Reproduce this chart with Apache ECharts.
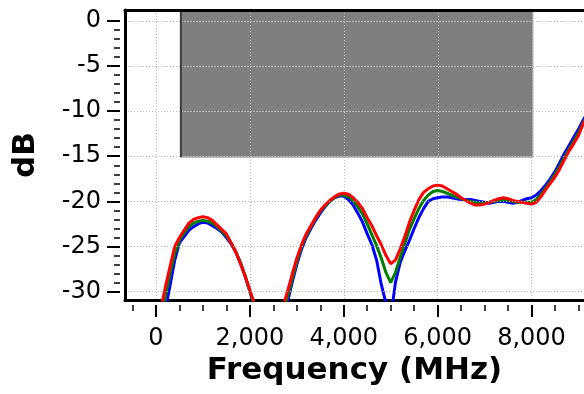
<!DOCTYPE html>
<html>
<head>
<meta charset="utf-8">
<script src="https://cdn.jsdelivr.net/npm/echarts@6/dist/echarts.min.js"></script>
<style>
  html, body { margin: 0; padding: 0; background: #fff; }
  #chart { width: 584px; height: 394px; }
</style>
</head>
<body>
<div id="chart"></div>
<script>
// ---- data ----
const freqMHz = [0,100,200,300,400,500,600,700,800,900,
  1000,1100,1200,1300,1400,1500,1600,1700,1800,1900,
  2000,2100,2200,2300,2400,2500,2600,2700,2800,2900,
  3000,3100,3200,3300,3400,3500,3600,3700,3800,3900,
  4000,4100,4200,4300,4400,4500,4600,4700,4800,4900,
  5000,5100,5200,5300,5400,5500,5600,5700,5800,5900,
  6000,6100,6200,6300,6400,6500,6600,6700,6800,6900,
  7000,7100,7200,7300,7400,7500,7600,7700,7800,7900,
  8000,8100,8200,8300,8400,8500,8600,8700,8800,8900,
  9000,9100,9200];

const blueDb = [-40,-36,-32.0,-29.3,-26.5,-24.6,-23.9,-23.2,-22.8,-22.5,
  -22.3,-22.4,-22.7,-23.0,-23.4,-24.0,-24.7,-25.6,-26.8,-28.3,
  -30.0,-31.8,-33.5,-35,-36,-36,-35,-33,-31.2,-29.0,
  -27.0,-25.3,-24.0,-23.0,-22.1,-21.3,-20.6,-20.0,-19.6,-19.4,
  -19.4,-19.8,-20.4,-21.3,-22.3,-23.6,-24.8,-26.5,-29.2,-31.3,
  -33.0,-29.0,-26.8,-25.5,-24.3,-23.0,-21.8,-20.8,-20.0,-19.7,
  -19.6,-19.5,-19.5,-19.6,-19.7,-19.8,-19.8,-19.8,-19.9,-20.0,
  -20.1,-20.2,-20.1,-20.0,-20.0,-20.1,-20.2,-20.1,-19.9,-19.7,
  -19.6,-19.3,-18.8,-18.2,-17.5,-16.7,-15.7,-14.7,-13.8,-12.9,
  -12.0,-11.0,-10.1];

const greenDb = [-37,-33.5,-30.5,-28.0,-25.8,-24.3,-23.5,-22.8,-22.4,-22.2,
  -22.1,-22.2,-22.4,-22.8,-23.3,-23.8,-24.6,-25.6,-26.8,-28.3,
  -29.9,-31.6,-33.3,-34.7,-35.7,-35.5,-34.2,-32.4,-30.6,-28.6,
  -26.7,-25.0,-23.8,-22.8,-21.9,-21.1,-20.5,-20.0,-19.6,-19.3,
  -19.3,-19.5,-19.9,-20.6,-21.4,-22.5,-23.7,-24.9,-26.3,-27.9,
  -29.0,-27.9,-26.2,-24.7,-23.1,-21.9,-20.8,-19.9,-19.3,-18.9,
  -18.8,-18.9,-19.1,-19.3,-19.5,-19.7,-19.9,-20.0,-20.1,-20.2,
  -20.2,-20.1,-20.0,-19.9,-19.8,-19.9,-20.0,-20.1,-20.1,-20.1,
  -20.1,-19.8,-19.2,-18.5,-17.8,-17.0,-16.1,-15.1,-14.2,-13.3,
  -12.4,-11.3,-10.3];

const redDb = [-34.5,-32.0,-29.5,-27.2,-25.0,-24.0,-23.2,-22.4,-22.0,-21.8,
  -21.7,-21.8,-22.1,-22.6,-23.1,-23.6,-24.6,-25.6,-26.9,-28.3,
  -29.8,-31.4,-33.0,-34.5,-35.5,-35.0,-33.5,-31.8,-30.0,-28.1,
  -26.3,-24.8,-23.6,-22.7,-21.8,-21.0,-20.4,-19.9,-19.5,-19.2,
  -19.1,-19.2,-19.6,-20.1,-20.8,-21.8,-22.7,-23.8,-24.8,-26.0,
  -26.9,-26.5,-25.3,-23.9,-22.3,-21.0,-19.8,-19.0,-18.6,-18.3,
  -18.2,-18.3,-18.6,-18.9,-19.2,-19.6,-19.9,-20.2,-20.4,-20.4,
  -20.3,-20.1,-19.9,-19.7,-19.6,-19.7,-19.9,-20.0,-20.1,-20.2,
  -20.3,-20.1,-19.5,-18.7,-18.0,-17.3,-16.4,-15.4,-14.4,-13.6,
  -12.7,-11.4,-10.5];

// shaded band (frequency range and lower dB limit)
const bandStartMHz = 530;
const bandEndMHz = 8030;
const bandLowDb = -15.1;

// ticks
const xMajorTicks = [0, 2000, 4000, 6000, 8000];
const xMinorTicks = [-500, 500, 1000, 1500, 2500, 3000, 3500, 4500, 5000, 5500, 6500, 7000, 7500, 8500, 9000];
const yMajorTicks = [-30, -25, -20, -15, -10, -5, 0];
const yMinorTicks = [-29,-28,-27,-26,-24,-23,-22,-21,-19,-18,-17,-16,-14,-13,-12,-11,-9,-8,-7,-6,-4,-3,-2,-1];

// axis ranges
const X_MIN = -660, X_MAX = 9118;
const Y_MIN = -30.92, Y_MAX = 1.196;

// ---- chart ----
const FONT = 'DejaVu Sans';
const gridBox = { left: 125, right: 0, top: 10, bottom: 94 };
const GRID_COLOR = '#b8b8b8';
const gridLine = { color: GRID_COLOR, width: 1, type: [1, 2] };

function pairs(ys) { return freqMHz.map((f, i) => [f, ys[i]]); }

function tickXAxis(grid, values, len, width) {
  return {
    type: 'value', gridIndex: grid, min: X_MIN, max: X_MAX, position: 'bottom', offset: 5,
    axisLine: { show: false, onZero: false },
    axisTick: { show: true, customValues: values, length: len, lineStyle: { color: '#000', width: width } },
    axisLabel: { show: false }, splitLine: { show: false }
  };
}
function tickYAxis(grid, values, len, width) {
  return {
    type: 'value', gridIndex: grid, min: Y_MIN, max: Y_MAX, position: 'left', offset: 5,
    axisLine: { show: false, onZero: false },
    axisTick: { show: true, customValues: values, length: len, lineStyle: { color: '#000', width: width } },
    axisLabel: { show: false }, splitLine: { show: false }
  };
}

const chart = echarts.init(document.getElementById('chart'), null, { renderer: 'canvas' });
chart.setOption({
  animation: false,
  backgroundColor: '#fff',
  grid: [Object.assign({}, gridBox), Object.assign({}, gridBox), Object.assign({}, gridBox)],
  xAxis: [
    {
      type: 'value', gridIndex: 0, min: X_MIN, max: X_MAX, position: 'bottom',
      name: 'Frequency (MHz)', nameLocation: 'middle', nameGap: 55,
      nameTextStyle: { fontFamily: FONT, fontWeight: 'bold', fontSize: 31, color: '#000' },
      axisLine: { show: true, onZero: false, lineStyle: { color: '#000', width: 3 } },
      axisTick: { show: false, customValues: xMajorTicks },
      axisLabel: { customValues: xMajorTicks, fontFamily: FONT, fontSize: 24, color: '#000', margin: 27 },
      splitLine: { show: true, lineStyle: gridLine }
    },
    {
      type: 'value', gridIndex: 0, min: X_MIN, max: X_MAX, position: 'top', z: 10,
      axisLine: { show: true, onZero: false, lineStyle: { color: '#000', width: 3 } },
      axisTick: { show: false }, axisLabel: { show: false }, splitLine: { show: false }
    },
    tickXAxis(1, xMajorTicks, 12, 2),
    tickXAxis(2, xMinorTicks, 6, 1.5)
  ],
  yAxis: [
    {
      type: 'value', gridIndex: 0, min: Y_MIN, max: Y_MAX, position: 'left', z: 10,
      name: 'dB', nameLocation: 'middle', nameGap: 84,
      nameTextStyle: { fontFamily: FONT, fontWeight: 'bold', fontSize: 31, color: '#000' },
      axisLine: { show: true, onZero: false, lineStyle: { color: '#000', width: 3 } },
      axisTick: { show: false, customValues: yMajorTicks },
      axisLabel: { customValues: yMajorTicks, fontFamily: FONT, fontSize: 24, color: '#000', margin: 24 },
      splitLine: { show: true, lineStyle: gridLine }
    },
    tickYAxis(1, yMajorTicks, 13, 2),
    tickYAxis(2, yMinorTicks, 6, 1.5)
  ],
  series: [
    {
      // shaded band, with the dotted grid re-drawn on top of it
      type: 'custom', xAxisIndex: 0, yAxisIndex: 0, z: 1, silent: true,
      data: [[bandStartMHz, bandLowDb, bandEndMHz, Y_MAX]],
      renderItem: function (params, api) {
        const x0 = api.value(0), y0 = api.value(1), x1 = api.value(2), y1 = api.value(3);
        const tl = api.coord([x0, y1]);
        const br = api.coord([x1, y0]);
        const kids = [
          { type: 'rect', shape: { x: tl[0], y: tl[1], width: br[0] - tl[0], height: br[1] - tl[1] },
            style: { fill: '#7f7f7f', stroke: '#a8a8a8', lineWidth: 1 } }
        ];
        xMajorTicks.forEach(function (v) {
          if (v > x0 && v < x1) {
            const p = api.coord([v, y1]);
            const x = Math.round(p[0]) + 0.5;
            kids.push({ type: 'line', shape: { x1: x, y1: tl[1], x2: x, y2: br[1] },
              style: { stroke: GRID_COLOR, lineWidth: 1, lineDash: [1, 2] } });
          }
        });
        yMajorTicks.forEach(function (v) {
          if (v >= y0 && v < y1) {
            const p = api.coord([x0, v]);
            const y = Math.round(p[1]) + 0.5;
            kids.push({ type: 'line', shape: { x1: tl[0], y1: y, x2: br[0], y2: y },
              style: { stroke: GRID_COLOR, lineWidth: 1, lineDash: [1, 2] } });
          }
        });
        kids.push({ type: 'line', shape: { x1: tl[0], y1: tl[1], x2: tl[0], y2: br[1] },
          style: { stroke: '#3a3a3a', lineWidth: 2 } });
        return { type: 'group', children: kids };
      }
    },
    { type: 'line', name: 'blue', xAxisIndex: 0, yAxisIndex: 0, z: 3, data: pairs(blueDb), showSymbol: false,
      lineStyle: { color: '#0000ff', width: 3 }, itemStyle: { color: '#0000ff' } },
    { type: 'line', name: 'green', xAxisIndex: 0, yAxisIndex: 0, z: 3, data: pairs(greenDb), showSymbol: false,
      lineStyle: { color: '#008000', width: 3 }, itemStyle: { color: '#008000' } },
    { type: 'line', name: 'red', xAxisIndex: 0, yAxisIndex: 0, z: 3, data: pairs(redDb), showSymbol: false,
      lineStyle: { color: '#ff0000', width: 3 }, itemStyle: { color: '#ff0000' } }
  ]
});
</script>
</body>
</html>
